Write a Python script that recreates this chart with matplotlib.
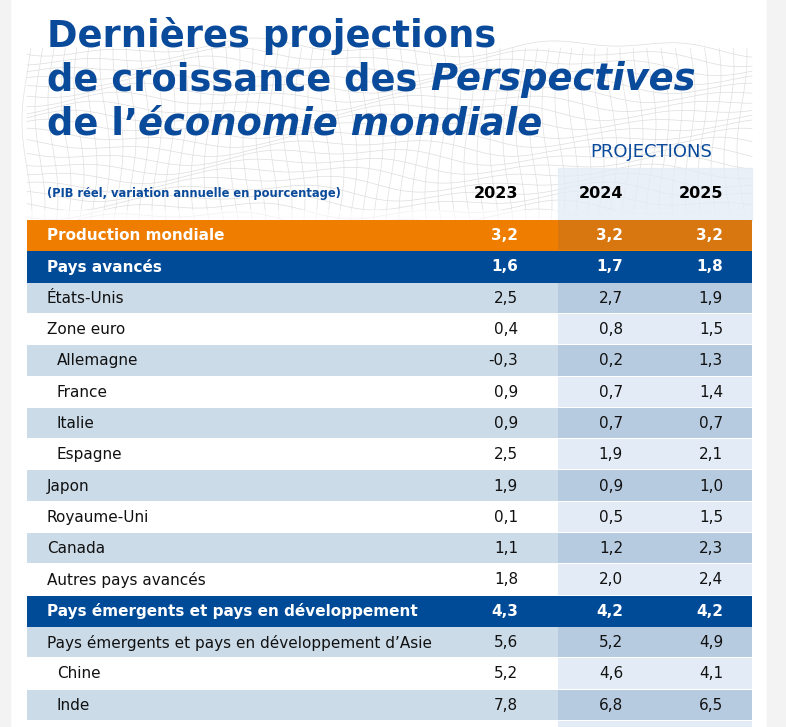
"""IMF WEO growth projections table (French) rendered with matplotlib."""
import numpy as np
import matplotlib
matplotlib.use("Agg")
import matplotlib.pyplot as plt
from matplotlib import font_manager
from matplotlib.patches import Rectangle

# data
labels = ["Production mondiale", "Pays avancés", "États-Unis", "Zone euro",
          "Allemagne", "France", "Italie", "Espagne", "Japon", "Royaume-Uni",
          "Canada", "Autres pays avancés",
          "Pays émergents et pays en développement",
          "Pays émergents et pays en développement d’Asie",
          "Chine", "Inde",
          "Pays émergents et pays en développement d’Europe"]
indent = [0, 0, 0, 0, 1, 1, 1, 1, 0, 0, 0, 0, 0, 0, 1, 1, 0]
kind = ["world", "group", "row", "row", "row", "row", "row", "row", "row", "row",
        "row", "row", "group", "row", "row", "row", "row"]
years = ["2023", "2024", "2025"]
v2023 = [3.2, 1.6, 2.5, 0.4, -0.3, 0.9, 0.9, 2.5, 1.9, 0.1, 1.1, 1.8, 4.3, 5.6, 5.2, 7.8, 3.2]
v2024 = [3.2, 1.7, 2.7, 0.8, 0.2, 0.7, 0.7, 1.9, 0.9, 0.5, 1.2, 2.0, 4.2, 5.2, 4.6, 6.8, 3.1]
v2025 = [3.2, 1.8, 1.9, 1.5, 1.3, 1.4, 0.7, 2.1, 1.0, 1.5, 2.3, 2.4, 4.2, 4.9, 4.1, 6.5, 2.8]

# palette
BLUE = "#004b98"
TITLE = "#0a4a9b"
ORANGE, ORANGE_P = "#ef7d00", "#d8760f"
SHADE, SHADE_P = "#cbdbe8", "#b7cbe0"
WHITE_P = "#e3ecf6"
MARGIN = "#f3f3f3"

avail = {f.name for f in font_manager.fontManager.ttflist}
BODY = "Liberation Sans Narrow" if "Liberation Sans Narrow" in avail else "DejaVu Sans"
HEAD = "DejaVu Sans"

fig = plt.figure(figsize=(7.86, 7.27), dpi=100)
ax = fig.add_axes([0, 0, 1, 1])
ax.set_xlim(0, 786); ax.set_ylim(727, 0)
ax.axis("off")

# page margins
ax.add_patch(Rectangle((0, 0), 10, 727, color=MARGIN, zorder=0))
ax.add_patch(Rectangle((767, 0), 19, 727, color=MARGIN, zorder=0))

X0, X1, XP = 27, 752, 558
COLS = [518, 623, 723]

# decorative wire mesh behind the title
u = np.linspace(X0, X1, 200)
for k in range(20):
    base = 48 + k * 9
    y = base + 6 * np.sin(u / 55 + k * 0.4) + 4 * np.sin(u / 23 + k)
    ax.plot(u, y, color="#dadada", lw=0.5, zorder=1, alpha=0.9)
for x in np.arange(X0, X1, 13):
    t = np.linspace(48, 220, 60)
    xs = x + 5 * np.sin(t / 30 + x / 40)
    ax.plot(xs, t, color="#dddddd", lw=0.5, zorder=1, alpha=0.9)
ax.add_patch(Rectangle((X0, 210), X1 - X0, 12, color="white", zorder=1, alpha=0.6))

# projection header box
ax.add_patch(Rectangle((XP, 168), X1 - XP, 53, color=WHITE_P, alpha=0.75, zorder=1.5))

# title: fit first line to the reference width
probe = ax.text(47, 38, "Dernières projections", fontsize=20, fontweight="bold",
                family=HEAD, color="none")
fig.canvas.draw()
pb = probe.get_window_extent().transformed(ax.transData.inverted())
TS = 20 * 450 / (pb.x1 - pb.x0)
probe.remove()


def title_part(x, y, s, italic=False):
    t = ax.text(x, y, s, fontsize=TS, fontweight="bold", family=HEAD, color=TITLE,
                style="italic" if italic else "normal", va="center", zorder=3)
    fig.canvas.draw()
    return t.get_window_extent().transformed(ax.transData.inverted()).x1


title_part(47, 36, "Dernières projections")
x = title_part(47, 80, "de croissance des ")
title_part(x, 80, "Perspectives", italic=True)
x = title_part(47, 124, "de l’")
title_part(x, 124, "économie mondiale", italic=True)

ax.text(651, 152, "PROJECTIONS", fontsize=13, family=BODY, color=TITLE,
        ha="center", va="center", zorder=3)
ax.text(47, 194, "(PIB réel, variation annuelle en pourcentage)", fontsize=8.3,
        fontweight="bold", family=BODY, color=TITLE, va="center", zorder=3)
for cx, yr in zip(COLS, years):
    ax.text(cx, 194, yr, fontsize=11.5, fontweight="bold", family=HEAD,
            color="black", ha="right", va="center", zorder=3)

# table rows
TOP, H = 220, 31.3
shade_i = 0
for i, (lab, ind, kd) in enumerate(zip(labels, indent, kind)):
    y = TOP + i * H
    if kd == "world":
        c_l, c_r, fc, fw = ORANGE, ORANGE_P, "white", "bold"
    elif kd == "group":
        c_l, c_r, fc, fw = BLUE, BLUE, "white", "bold"
        shade_i = 0
    else:
        shaded = shade_i % 2 == 0
        shade_i += 1
        c_l, c_r = (SHADE, SHADE_P) if shaded else ("white", WHITE_P)
        fc, fw = "#111111", "normal"
    ax.add_patch(Rectangle((X0, y), XP - X0, H - 1, color=c_l, lw=0, zorder=2))
    ax.add_patch(Rectangle((XP, y), X1 - XP, H - 1, color=c_r, lw=0, zorder=2))
    if kd != "row":
        ax.add_patch(Rectangle((X0, y + H - 1), X1 - X0, 1,
                               color=c_r if kd == "group" else c_l, lw=0, zorder=2))
    yc = y + H / 2
    ax.text(47 + 10 * ind, yc, lab, fontsize=11, fontweight=fw, family=BODY,
            color=fc, va="center", zorder=3)
    for cx, v in zip(COLS, (v2023[i], v2024[i], v2025[i])):
        ax.text(cx, yc, f"{v:.1f}".replace(".", ","), fontsize=11, fontweight=fw,
                family=BODY, color=fc, ha="right", va="center", zorder=3)

fig.savefig("out.png", dpi=100, facecolor="white")
